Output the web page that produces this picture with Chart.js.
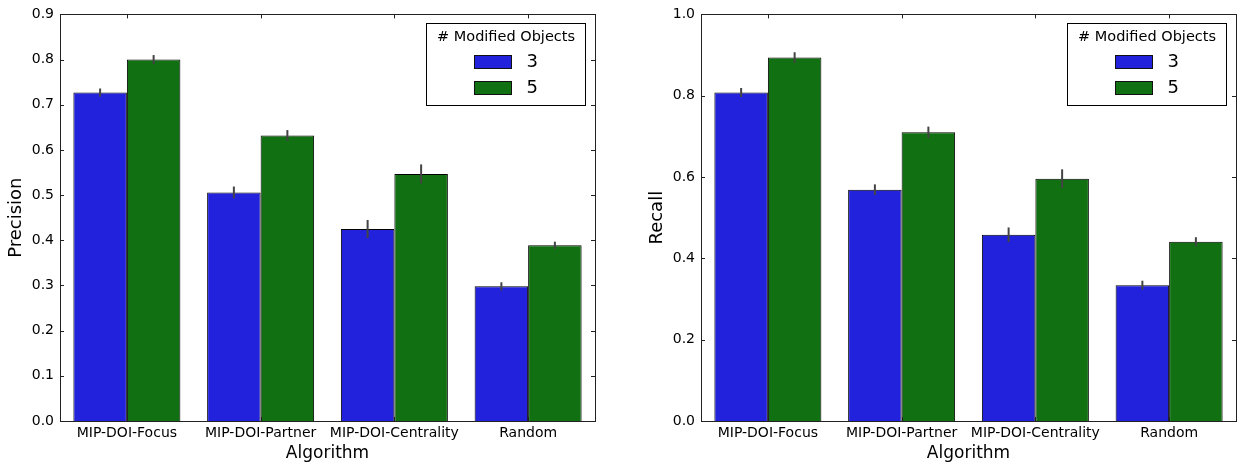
<!DOCTYPE html>
<html>
<head>
<meta charset="utf-8">
<script src="https://cdn.jsdelivr.net/npm/chart.js@4"></script>
<style>
  body { margin: 0; background: #fff; }
  .wrap { position: absolute; top: 0; height: 464px; }
  #left { left: 0; width: 610px; }
  #right { left: 630px; width: 611px; }
</style>
</head>
<body>
<div class="wrap" id="left"><canvas id="chart-precision"></canvas></div>
<div class="wrap" id="right"><canvas id="chart-recall"></canvas></div>
<script>
const categories = ['MIP-DOI-Focus', 'MIP-DOI-Partner', 'MIP-DOI-Centrality', 'Random'];
const groups = ['3', '5'];
const precision3 = [0.727, 0.506, 0.425, 0.298];
const precision5 = [0.800, 0.632, 0.547, 0.389];
const precisionErr3 = [0.009, 0.013, 0.020, 0.009];
const precisionErr5 = [0.010, 0.012, 0.021, 0.008];
const recall3 = [0.808, 0.569, 0.458, 0.334];
const recall5 = [0.894, 0.710, 0.596, 0.441];
const recallErr3 = [0.011, 0.013, 0.018, 0.011];
const recallErr5 = [0.013, 0.014, 0.023, 0.011];
const precisionTicks = [0, 0.1, 0.2, 0.3, 0.4, 0.5, 0.6, 0.7, 0.8, 0.9];
const recallTicks = [0, 0.2, 0.4, 0.6, 0.8, 1.0];

const FONT = "'DejaVu Sans', sans-serif";

// error bars, frame, inward ticks and the legend box
const extras = {
    id: 'extras',
    afterDatasetsDraw(chart, args, opts) {
        const ctx = chart.ctx;
        const yScale = chart.scales.y;
        ctx.save();
        ctx.strokeStyle = '#444';
        ctx.lineWidth = 2;
        chart.data.datasets.forEach((ds, i) => {
            const meta = chart.getDatasetMeta(i);
            meta.data.forEach((bar, j) => {
                const v = ds.data[j], e = ds.errors[j];
                ctx.beginPath();
                ctx.moveTo(bar.x, yScale.getPixelForValue(v - e));
                ctx.lineTo(bar.x, yScale.getPixelForValue(v + e));
                ctx.stroke();
            });
        });
        ctx.restore();
    },
    afterDraw(chart, args, opts) {
        const ctx = chart.ctx;
        const a = chart.chartArea;
        const xScale = chart.scales.x, yScale = chart.scales.y;
        ctx.save();
        ctx.strokeStyle = '#222';
        ctx.lineWidth = 1;
        ctx.strokeRect(Math.round(a.left) + 0.5, Math.round(a.top) + 0.5,
            Math.round(a.right - a.left), Math.round(a.bottom - a.top));
        ctx.beginPath();
        opts.ticks.forEach(t => {
            const y = Math.round(yScale.getPixelForValue(t)) + 0.5;
            ctx.moveTo(a.left, y); ctx.lineTo(a.left + 4, y);
            ctx.moveTo(a.right, y); ctx.lineTo(a.right - 4, y);
        });
        categories.forEach((c, i) => {
            const x = Math.round(xScale.getPixelForValue(i)) + 0.5;
            ctx.moveTo(x, a.bottom); ctx.lineTo(x, a.bottom - 4);
            ctx.moveTo(x, a.top); ctx.lineTo(x, a.top + 4);
        });
        ctx.stroke();

        // legend
        const w = 159, h = 82;
        const lx = Math.round(a.right - 10 - w) + 0.5, ly = Math.round(a.top + 9) + 0.5;
        ctx.fillStyle = '#fff';
        ctx.fillRect(lx, ly, w, h);
        ctx.strokeStyle = '#000';
        ctx.strokeRect(lx, ly, w, h);
        ctx.fillStyle = '#000';
        ctx.textAlign = 'center';
        ctx.textBaseline = 'middle';
        ctx.font = '14.5px ' + FONT;
        ctx.fillText('# Modified Objects', lx + w / 2, ly + 14);
        chart.data.datasets.forEach((ds, i) => {
            const sy = ly + 32 + i * 26;
            ctx.fillStyle = ds.backgroundColor;
            ctx.fillRect(lx + 48, sy, 37, 13);
            ctx.strokeStyle = '#111';
            ctx.strokeRect(lx + 48, sy, 37, 13);
            ctx.fillStyle = '#000';
            ctx.font = '18px ' + FONT;
            ctx.textAlign = 'left';
            ctx.fillText(ds.label, lx + 100, sy + 7);
        });
        ctx.restore();
    }
};

function makeChart(id, title, d3, d5, e3, e5, ticks, max, padLeft, yWidth, padRight) {
    const ctx = document.getElementById(id).getContext('2d');
    return new Chart(ctx, {
        type: 'bar',
        data: {
            labels: categories,
            datasets: [{
                label: groups[0],
                data: d3,
                errors: e3,
                backgroundColor: '#2222dd',
                borderColor: '#000',
                borderWidth: 1,
                borderSkipped: 'bottom'
            }, {
                label: groups[1],
                data: d5,
                errors: e5,
                backgroundColor: '#117011',
                borderColor: '#000',
                borderWidth: 1,
                borderSkipped: 'bottom'
            }]
        },
        options: {
            responsive: true,
            maintainAspectRatio: false,
            animation: false,
            datasets: {
                bar: { categoryPercentage: 0.8, barPercentage: 1.0 }
            },
            layout: { padding: { top: 14, right: padRight, left: padLeft, bottom: 0 } },
            plugins: {
                legend: { display: false },
                tooltip: { enabled: false },
                extras: { ticks: ticks }
            },
            scales: {
                x: {
                    grid: { display: false, drawTicks: false },
                    border: { display: false },
                    ticks: { color: '#000', font: { family: FONT, size: 14 }, padding: 4, maxRotation: 0, autoSkip: false },
                    title: { display: true, text: 'Algorithm', color: '#000', font: { family: FONT, size: 17 }, padding: { top: 0, bottom: 0 } },
                    afterFit(scale) { scale.height = 43; }
                },
                y: {
                    min: 0,
                    max: max,
                    grid: { display: false, drawTicks: false },
                    border: { display: false },
                    afterBuildTicks(scale) { scale.ticks = ticks.map(v => ({ value: v })); },
                    ticks: {
                        color: '#000',
                        font: { family: FONT, size: 14 },
                        padding: 6,
                        callback: v => v.toFixed(1)
                    },
                    title: { display: true, text: title, color: '#000', font: { family: FONT, size: 18 }, padding: { top: 0, bottom: 4 } },
                    afterFit(scale) { scale.width = yWidth; }
                }
            }
        },
        plugins: [extras]
    });
}

makeChart('chart-precision', 'Precision', precision3, precision5, precisionErr3, precisionErr5, precisionTicks, 0.9, 6, 54, 15);
makeChart('chart-recall', 'Recall', recall3, recall5, recallErr3, recallErr5, recallTicks, 1.0, 17, 54, 5);
</script>
</body>
</html>
